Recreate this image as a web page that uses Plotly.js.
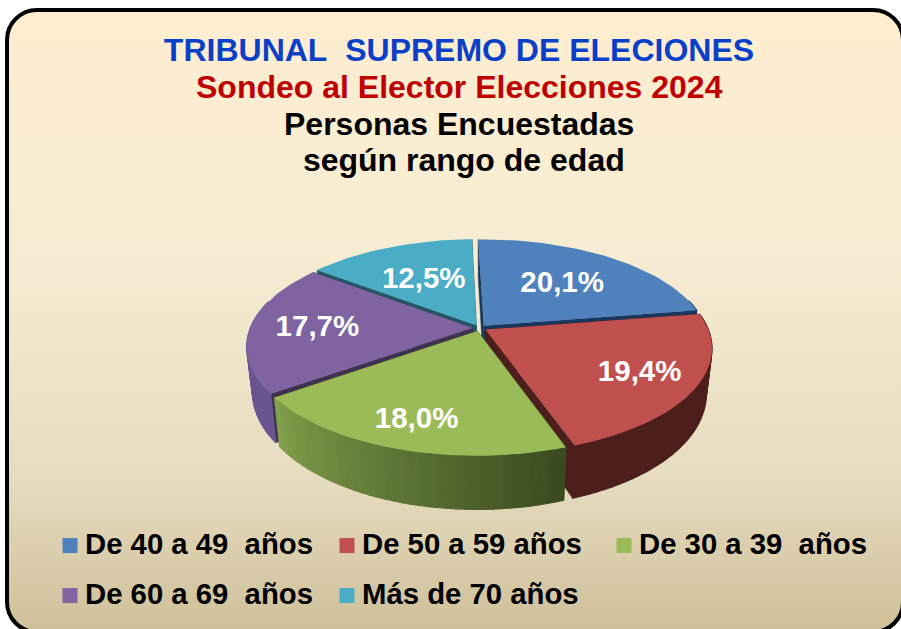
<!DOCTYPE html>
<html><head><meta charset="utf-8">
<script src="https://cdn.plot.ly/plotly-3.0.1.min.js"></script>
<style>
html,body{margin:0;padding:0;background:#fff;width:901px;height:629px;overflow:hidden}
#frame{position:absolute;left:5px;top:8px;width:900px;height:626px;box-sizing:border-box;border:4px solid #000;border-radius:32px;
background:linear-gradient(180deg,#feeed0 0%,#f6ecd3 40%,#e6dcc0 75%,#cfc09a 100%)}
#chart{position:absolute;left:0;top:0;width:901px;height:629px}
.legendtext,.legend2text{transform:translateX(-5px)}
.legendsymbols,.legend2symbols{transform:translateY(3px)}
</style></head><body>
<div id="frame"></div><div id="chart"></div>
<script>
const categories=["De 40 a 49\u00a0\u00a0años","De 50 a 59 años","De 30 a 39\u00a0\u00a0años","De 60 a 69\u00a0\u00a0años","Más de 70 años"];
const values=[20.1,19.4,18.0,17.7,12.5];
const titleLines=["TRIBUNAL\u00a0\u00a0SUPREMO DE ELECIONES","Sondeo al Elector Elecciones 2024","Personas Encuestadas","\u00a0según rango de edad"];
const colors=["#4f81bd","#c0504d","#9bbb59","#8064a2","#4bacc6"];
const cutColors=["#17375e","#4d1f1c","#3d4d20","#403152","#205867"];
const wallFrom=["#17375e","#4d1f1c","#3a4a1f","#6a5590","#205867"];
const wallTo=["#17375e","#4d1f1c","#82a24c","#6a5590","#205867"];
const labelRadius=[0.6,0.75,0.78,0.7,0.57];
const drawOrder=[4,0,3,1,2];

// projection settings
const cx=479.5,cy=328,R=222.5,B=102,k=0.174,D=44,taper=0.975,explode=0.03,startAngle=-1.5,labelDy=2;
const total=values.reduce((a,b)=>a+b,0);
const rad=d=>d*Math.PI/180;
let acc=startAngle;
const slices=values.map(v=>{const a0=acc;acc+=v/total*360;return {a0,a1:acc,mid:(a0+acc)/2};});
function pt(s,theta,r,low){
  const t=rad(theta),m=rad(s.mid);
  const u=r*Math.sin(t)+explode*Math.sin(m),v=-r*Math.cos(t)-explode*Math.cos(m);
  const q=1/(1-k*v);
  let X=R*u*q,Y=B*v*q;
  if(low){X*=taper;Y+=D*q;}
  return [cx+X,cy+Y];
}
function poly(points,color,lw){
  return {x:points.map(p=>p[0]).concat(points[0][0]),y:points.map(p=>p[1]).concat(points[0][1]),
    mode:'lines',fill:'toself',fillcolor:color,line:{color:color,width:lw||0},hoverinfo:'skip',showlegend:false,type:'scatter'};
}
function mix(a,b,t){
  const p=h=>[1,3,5].map(i=>parseInt(h.substr(i,2),16));
  const A=p(a),B2=p(b);
  return 'rgb('+A.map((c,i)=>Math.round(c+(B2[i]-c)*t)).join(',')+')';
}
const traces=[];
drawOrder.forEach(i=>{
  const s=slices[i];
  [s.a0,s.a1].forEach(a=>{
    traces.push(poly([pt(s,a,0,false),pt(s,a,1,false),pt(s,a,1,true),pt(s,a,0,true)],cutColors[i],0.5));
  });
  const n=Math.ceil((s.a1-s.a0)/2);
  for(let j=0;j<n;j++){
    const a=s.a0+(s.a1-s.a0)*j/n,b=s.a0+(s.a1-s.a0)*(j+1)/n;
    const am=((a+b)/2+360)%360;
    if(am<75||am>285)continue;
    traces.push(poly([pt(s,a,1,false),pt(s,b,1,false),pt(s,b,1,true),pt(s,a,1,true)],mix(wallFrom[i],wallTo[i],j/n),1.2));
  }
  const top=[pt(s,s.a0,0,false)];
  for(let j=0;j<=n;j++)top.push(pt(s,s.a0+(s.a1-s.a0)*j/n,1,false));
  traces.push(poly(top,colors[i],0));
});
traces.push({type:'scatter',mode:'text',hoverinfo:'skip',showlegend:false,
  x:slices.map((s,i)=>pt(s,s.mid,labelRadius[i],false)[0]),
  y:slices.map((s,i)=>pt(s,s.mid,labelRadius[i],false)[1]+labelDy),
  text:values.map(v=>v.toFixed(1).replace('.',',')+'%'),
  textposition:'middle center',
  textfont:{family:'Liberation Sans, Arial, sans-serif',size:29.5,color:'#ffffff',weight:700}});
categories.forEach((c,i)=>{
  traces.push({type:'scatter',mode:'markers',x:[null],y:[null],name:c,showlegend:true,
    legend:i<3?'legend':'legend2',
    marker:{symbol:'square',size:15,color:colors[i]}});
});
const FONT='Liberation Sans, Arial, sans-serif';
const legendBase={orientation:'h',xanchor:'left',yanchor:'middle',bgcolor:'rgba(0,0,0,0)',
  entrywidth:232,entrywidthmode:'pixels',traceorder:'normal',
  font:{family:FONT,size:29.3,color:'#000',weight:700}};
const ann=(text,yc,color)=>({text,xref:'paper',yref:'paper',x:459/901,y:1-yc/629,xanchor:'center',yanchor:'middle',showarrow:false,
  font:{family:FONT,size:32,color,weight:700}});
const layout={width:901,height:629,margin:{l:0,r:0,t:0,b:0},
  paper_bgcolor:'rgba(0,0,0,0)',plot_bgcolor:'rgba(0,0,0,0)',
  xaxis:{range:[0,901],visible:false,fixedrange:true},
  yaxis:{range:[629,0],visible:false,fixedrange:true},
  title:{text:titleLines[0],x:459/901,xanchor:'center',y:1-50/629,yanchor:'middle',
    font:{family:FONT,size:32,color:'#0a3fc8',weight:700}},
  annotations:[ann(titleLines[1],87,'#c00000'),ann(titleLines[2],124,'#000000'),ann(titleLines[3],160,'#000000')],
  legend:Object.assign({},legendBase,{x:50/901,y:1-543/629}),
  legend2:Object.assign({},legendBase,{x:50/901,y:1-593/629}),
  showlegend:true};
Plotly.newPlot('chart',traces,layout,{displayModeBar:false,staticPlot:true});
</script></body></html>
